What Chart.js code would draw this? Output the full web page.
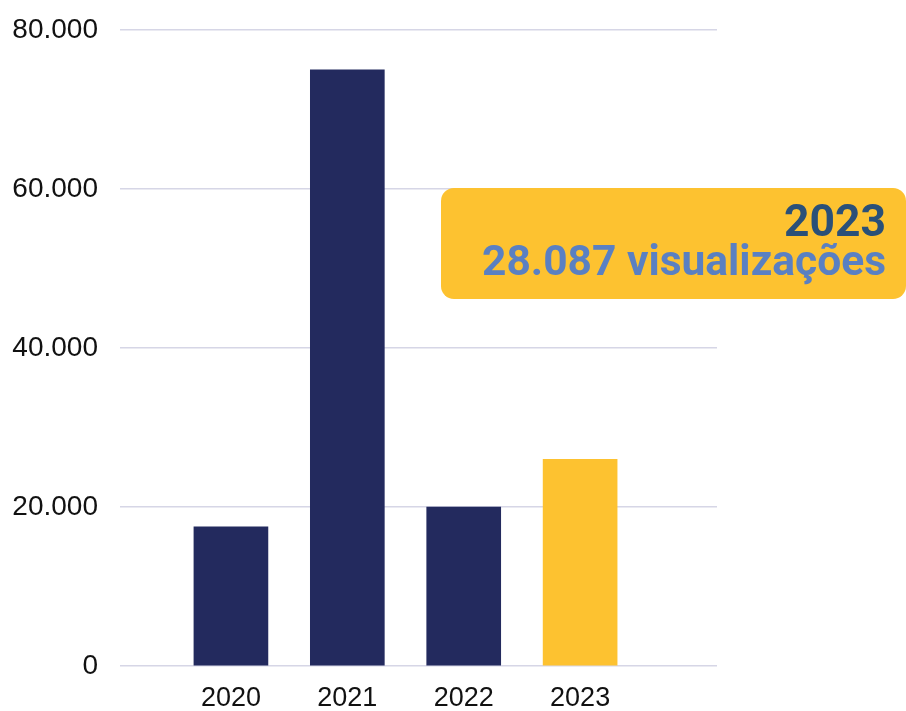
<!DOCTYPE html>
<html>
<head>
<meta charset="utf-8">
<script src="https://cdn.jsdelivr.net/npm/chart.js@4/dist/chart.umd.min.js"></script>
<style>
  html, body { margin: 0; padding: 0; background: #fff; }
  #wrap { width: 906px; height: 711px; }
</style>
</head>
<body>
<div id="wrap"><canvas id="chart"></canvas></div>
<script>
// dados
const years = [2020, 2021, 2022, 2023];
const views = [17500, 75000, 20000, 26000];
const yTicks = [0, 20000, 40000, 60000, 80000];
const calloutYear = '2023';
const calloutText = '28.087 visualizações';

const NAVY = '#232a5e';
const YELLOW = '#fdc230';

function fmt(v) {
    return String(v).replace(/\B(?=(\d{3})+(?!\d))/g, '.');
}

// texto condensado: escala horizontal até a largura desejada
function drawNarrow(ctx, text, right, base, width) {
    const w = ctx.measureText(text).width;
    const k = width / w;
    ctx.save();
    ctx.translate(right, base);
    ctx.scale(k, 1);
    ctx.fillText(text, 0, 0);
    ctx.restore();
}

// caixa amarela de destaque
const calloutPlugin = {
    id: 'callout',
    afterDraw(chart) {
        const ctx = chart.ctx;
        ctx.save();
        ctx.fillStyle = YELLOW;
        ctx.beginPath();
        ctx.roundRect(441, 188, 465, 111, 13);
        ctx.fill();
        ctx.textAlign = 'right';
        ctx.textBaseline = 'alphabetic';
        ctx.fillStyle = '#2a5078';
        ctx.font = 'bold 45px Roboto';
        drawNarrow(ctx, calloutYear, 886, 236, 102);
        ctx.fillStyle = '#5a80c2';
        ctx.font = 'bold 42px Roboto';
        drawNarrow(ctx, calloutText, 886, 275, 404);
        ctx.restore();
    }
};

new Chart(document.getElementById('chart'), {
    type: 'bar',
    data: {
        datasets: [{
            data: years.map((y, i) => ({ x: y, y: views[i] })),
            backgroundColor: years.map(y => y === 2023 ? YELLOW : NAVY),
            barThickness: 74
        }]
    },
    options: {
        responsive: true,
        maintainAspectRatio: false,
        animation: false,
        layout: { padding: { top: 30, right: 189, left: 0, bottom: 0 } },
        plugins: { legend: { display: false }, tooltip: { enabled: false } },
        scales: {
            x: {
                type: 'linear',
                offset: false,
                min: 2019.047,
                max: 2024.176,
                afterBuildTicks: s => { s.ticks = years.map(v => ({ value: v })); },
                afterFit: s => { s.height = 45; },
                grid: { display: false, offset: false },
                border: { display: false },
                ticks: {
                    color: '#111',
                    font: { family: '"Liberation Sans"', size: 27 },
                    padding: 8,
                    callback: v => String(v)
                }
            },
            y: {
                min: 0,
                max: 80000,
                afterBuildTicks: s => { s.ticks = yTicks.map(v => ({ value: v })); },
                afterFit: s => { s.width = 120; s.paddingTop = 0; s.paddingBottom = 0; },
                grid: { color: '#d6d6e6', lineWidth: 1.5, drawTicks: false },
                border: { display: false },
                ticks: {
                    color: '#111',
                    font: { family: '"Liberation Sans"', size: 28, lineHeight: 1 },
                    padding: 22,
                    callback: v => fmt(v)
                }
            }
        }
    },
    plugins: [calloutPlugin]
});
</script>
</body>
</html>
